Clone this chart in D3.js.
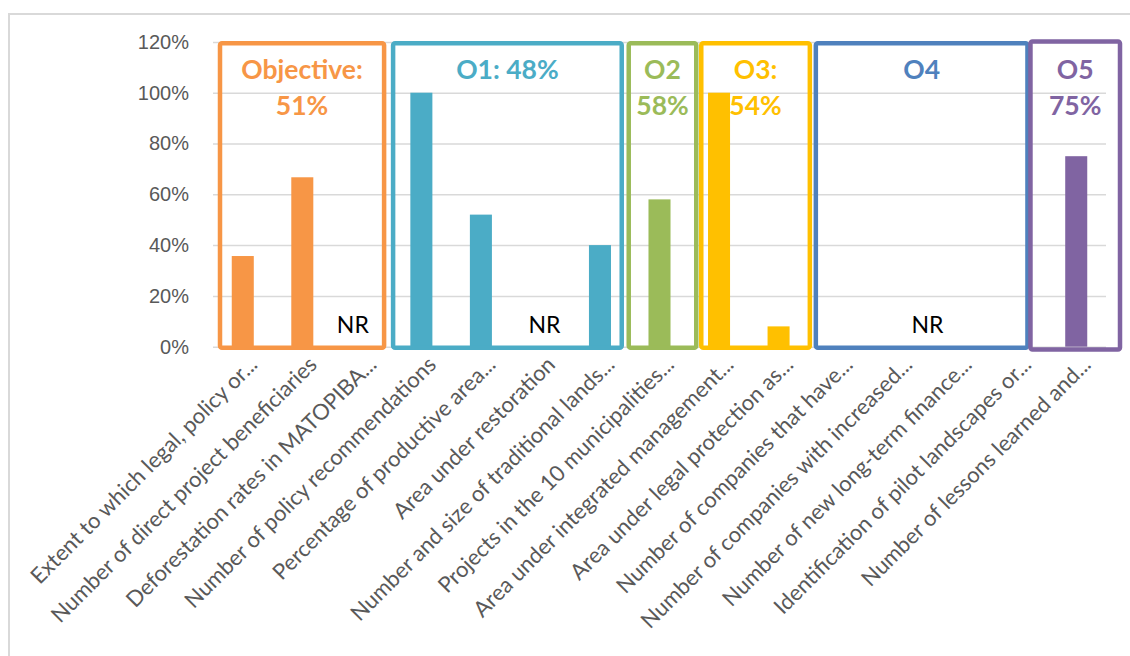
<!DOCTYPE html>
<html>
<head>
<meta charset="utf-8">
<script src="https://cdn.jsdelivr.net/npm/d3@7/dist/d3.min.js"></script>
<style>
  body { margin: 0; background: #fff; }
  svg { display: block; font-family: Lato, "Open Sans", sans-serif; }
</style>
</head>
<body>
<svg id="chart" width="1130" height="656"></svg>
<script>
// indicators, in the order they appear on the x axis
const categories = [
  "Extent to which legal, policy or...",
  "Number of direct project beneficiaries",
  "Deforestation rates in MATOPIBA...",
  "Number of policy recommendations",
  "Percentage of productive area...",
  "Area under restoration",
  "Number and size of traditional lands...",
  "Projects in the 10 municipalities...",
  "Area under integrated management...",
  "Area under legal protection as...",
  "Number of companies that have...",
  "Number of companies with increased...",
  "Number of new long-term finance...",
  "Identification of pilot landscapes or...",
  "Number of lessons learned and...",
];

// achievement per indicator (null = not reported)
const values = [0.357, 0.667, null, 1.0, 0.52, null, 0.40, 0.58, 1.0, 0.08, null, null, null, null, 0.75];

const yTicks = [0, 0.2, 0.4, 0.6, 0.8, 1.0, 1.2];

// objective groups: first/last category index, header lines
const groupNames = ["Objective", "O1", "O2", "O3", "O4", "O5"];
const groupFirst = [0, 3, 7, 8, 10, 14];
const groupLast = [2, 6, 7, 9, 13, 14];
const groupLines = [["Objective:", "51%"], ["O1: 48%"], ["O2", "58%"], ["O3:", "54%"], ["O4"], ["O5", "75%"]];
const groupColors = ["#F79646", "#4BACC6", "#9BBB59", "#FFC000", "#4F81BD", "#8064A2"];

// hand-drawn boxes don't sit exactly on the category edges (px nudges)
const boxNudge = [[7, -7.5], [1.5, -8], [-1, 7], [12, 1.5], [7.5, -19], [-16, 14]];

const svg = d3.select("#chart");

// outer chart frame
svg.append("rect")
  .attr("x", 9).attr("y", 14)
  .attr("width", 1140).attr("height", 670)
  .attr("fill", "none")
  .attr("stroke", "#d9d9d9")
  .attr("stroke-width", 2);

const x = d3.scaleBand()
  .domain(categories)
  .range([213, 1106])
  .paddingInner(0.63)
  .paddingOuter(0.315);

const y = d3.scaleLinear()
  .domain([0, 1.2])
  .range([346.7, 41.9]);

const groupOf = (i) => groupFirst.findIndex((f, g) => i >= f && i <= groupLast[g]);

// gridlines + labels
const yAxis = svg.append("g")
  .attr("class", "yaxis")
  .attr("transform", "translate(213,0)")
  .call(d3.axisLeft(y).tickValues(yTicks).tickFormat(d3.format(".0%")).tickSize(-(1106 - 213)).tickPadding(24));

yAxis.select(".domain").remove();
yAxis.selectAll(".tick line")
  .attr("stroke", "#d9d9d9")
  .attr("stroke-width", 1.5);
yAxis.selectAll(".tick text")
  .attr("fill", "#595959")
  .attr("font-size", 20);

// bars
svg.append("g")
  .selectAll("rect")
  .data(values.map((v, i) => ({ v, i })).filter((d) => d.v !== null))
  .join("rect")
  .attr("x", (d) => x(categories[d.i]))
  .attr("y", (d) => y(d.v))
  .attr("width", x.bandwidth())
  .attr("height", (d) => y(0) - y(d.v))
  .attr("fill", (d) => groupColors[groupOf(d.i)]);

// category labels, rotated
const step = x.step();
svg.append("g")
  .attr("class", "xlabels")
  .selectAll("text")
  .data(categories)
  .join("text")
  .attr("transform", (d) => `translate(${x(d) + x.bandwidth() / 2 + 16},366) rotate(-45)`)
  .attr("text-anchor", "end")
  .attr("fill", "#595959")
  .attr("font-size", 22)
  .text((d) => d);

// group boxes
const boxes = svg.append("g").attr("class", "boxes");
groupNames.forEach((name, g) => {
  const left = x(categories[groupFirst[g]]) - (step - x.bandwidth()) / 2 + boxNudge[g][0];
  const right = x(categories[groupLast[g]]) + x.bandwidth() + (step - x.bandwidth()) / 2 + boxNudge[g][1];
  const top = g === 5 ? 41.5 : 43.3;
  const bottom = g === 5 ? 349.5 : 347.8;

  boxes.append("rect")
    .attr("x", left)
    .attr("y", top)
    .attr("width", right - left)
    .attr("height", bottom - top)
    .attr("rx", 2)
    .attr("fill", "none")
    .attr("stroke", groupColors[g])
    .attr("stroke-width", 4.5);

  groupLines[g].forEach((line, k) => {
    boxes.append("text")
      .attr("x", (left + right) / 2)
      .attr("y", 79 + k * 36)
      .attr("text-anchor", "middle")
      .attr("font-weight", "bold")
      .attr("font-size", 26.5)
      .attr("fill", groupColors[g])
      .text(line);
  });
});

// not-reported markers
const nrAt = [
  x(categories[2]) + x.bandwidth() / 2 - 9,
  x(categories[5]) + x.bandwidth() / 2 + 4,
  (x(categories[11]) + x(categories[12])) / 2 + x.bandwidth() / 2,
];
svg.append("g")
  .selectAll("text")
  .data(nrAt)
  .join("text")
  .attr("x", (d) => d)
  .attr("y", 333)
  .attr("text-anchor", "middle")
  .attr("font-size", 23)
  .attr("fill", "#000")
  .text("NR");
</script>
</body>
</html>
